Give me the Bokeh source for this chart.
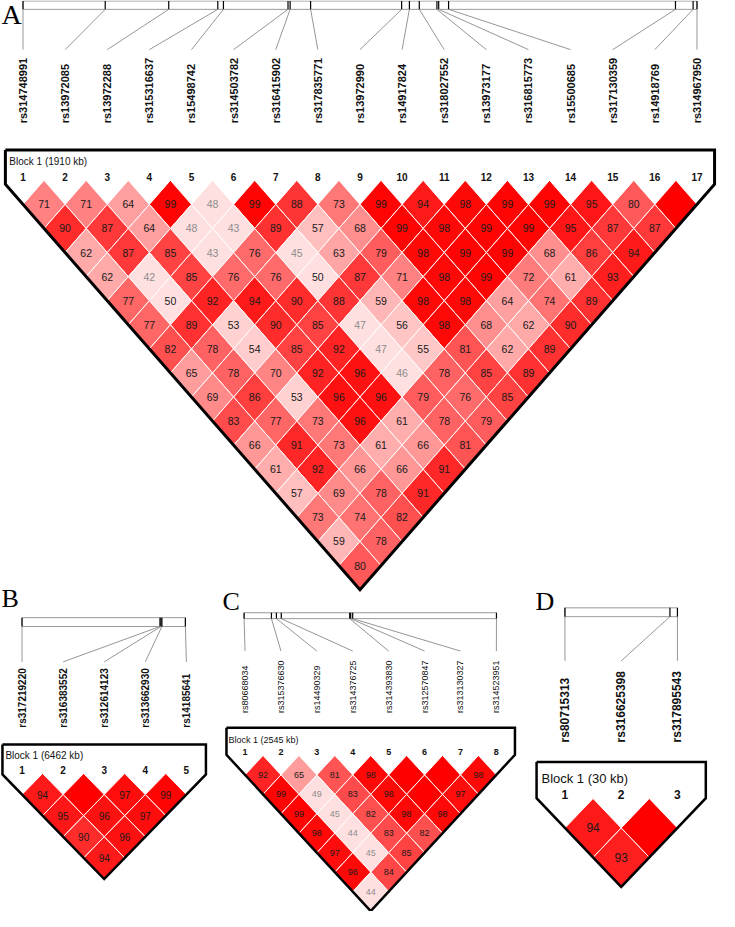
import math
from bokeh.plotting import figure
from bokeh.models import Range1d
from bokeh.embed import file_html
from bokeh.resources import INLINE
from bokeh.core.properties import value

# ---------------- data ----------------
A_SNPS = ["rs314748991", "rs13972085", "rs13972288", "rs315316637", "rs15498742",
          "rs314503782", "rs316415902", "rs317835771", "rs13972990", "rs14917824",
          "rs318027552", "rs13973177", "rs316815773", "rs15500685", "rs317130359",
          "rs14918769", "rs314967950"]
A_KB = [0, 233, 413, 552, 568, 751, 757, 815, 1073, 1095, 1123, 1173, 1178, 1206, 1849, 1899, 1910]
A_BLOCK = "Block 1 (1910 kb)"
# D' (x100) by diagonal row: row r holds pairs (i, i+r); 100 = D'=1 (blank red)
A_DPRIME = [
    [71, 71, 64, 99, 48, 99, 88, 73, 99, 94, 98, 99, 99, 95, 80, 100],
    [90, 87, 64, 48, 43, 89, 57, 68, 99, 98, 99, 99, 95, 87, 87],
    [62, 87, 85, 43, 76, 45, 63, 79, 98, 99, 99, 68, 86, 94],
    [62, 42, 85, 76, 76, 50, 87, 71, 98, 99, 72, 61, 93],
    [77, 50, 92, 94, 90, 88, 59, 98, 98, 64, 74, 89],
    [77, 89, 53, 90, 85, 47, 56, 98, 68, 62, 90],
    [82, 78, 54, 85, 92, 47, 55, 81, 62, 89],
    [65, 78, 70, 92, 96, 46, 78, 85, 89],
    [69, 86, 53, 96, 96, 79, 76, 85],
    [83, 77, 73, 96, 61, 78, 79],
    [66, 91, 73, 61, 66, 81],
    [61, 92, 66, 66, 91],
    [57, 69, 78, 91],
    [73, 74, 82],
    [59, 78],
    [80],
]

B_SNPS = ["rs317219220", "rs316383552", "rs312614123", "rs313662930", "rs14185641"]
B_KB = [0, 5456, 5495, 5533, 6462]
B_BLOCK = "Block 1 (6462 kb)"
B_DPRIME = [[94, 100, 97, 99], [95, 96, 97], [90, 96], [94]]

C_SNPS = ["rs80668034", "rs315376630", "rs14490329", "rs314376725", "rs314393830",
          "rs312570847", "rs313130327", "rs314523951"]
C_KB = [0, 276, 326, 375, 1065, 1075, 1095, 2545]
C_BLOCK = "Block 1 (2545 kb)"
C_DPRIME = [[92, 65, 81, 98, 100, 100, 98], [99, 49, 83, 98, 100, 97], [99, 45, 82, 98, 98],
            [98, 44, 83, 82], [97, 45, 85], [98, 84], [44]]

D_SNPS = ["rs80715313", "rs316625398", "rs317895543"]
D_KB = [0, 28, 30]
D_BLOCK = "Block 1 (30 kb)"
D_DPRIME = [[94, 100], [93]]

# ---------------- layout (reference pixel space, y downwards) ----------------
LAY = {
    "A": dict(lx=1, ly=14, lsize="28px",
              m0=23, m1=712, mt=0.5, mb=9, cb=50, lb=125, lab_size="11px", lab_style="bold",
              c0=23, dx=43.06, ot=152, ol=5, bx=9, by=164, bsize="10px", ny=180, nsize="10px",
              r1=207.5, hh=24.5, tsize="10.5px", bw=3),
    "B": dict(lx=1, ly=608, lsize="26px",
              m0=22, m1=189, mt=628, mb=637, cb=673, lb=740, lab_size="10px", lab_style="bold",
              c0=22, dx=42, ot=757, ol=2, bx=5, by=768, bsize="10px", ny=783, nsize="10px",
              r1=808, hh=21.5, tsize="10px", bw=2.5),
    "C": dict(lx=227, ly=612, lsize="26px",
              m0=249, m1=507, mt=623, mb=629, cb=662, lb=725, lab_size="9px", lab_style="normal",
              c0=250, dx=36.7, ot=740, ol=231, bx=233, by=752, bsize="9px", ny=765, nsize="9px",
              r1=788, hh=19.8, tsize="9px", bw=2.5),
    "D": dict(lx=547, ly=612, lsize="26px",
              m0=577, m1=692, mt=618, mb=627, cb=672, lb=755, lab_size="12px", lab_style="bold",
              c0=577, dx=57.5, ot=775, ol=548, bx=553, by=792, bsize="13px", ny=808, nsize="12px",
              r1=842, hh=30, tsize="12px", bw=2.5),
}

SANS = value("Liberation Sans")
SERIF = value("Liberation Serif")


def ld_color(v):
    d = v / 100.0
    if d >= 1.0:
        return "#ff0000"
    if d < 0.5:
        return "#ffe0e0"
    g = int((255 - 32) * 2 * (1 - d))
    return "#%02x%02x%02x" % (255, g, g)


def Y(v):
    return [-t for t in v]


def draw_panel(p, letter, snps, kb, dp, block, L):
    n = len(snps)
    cols = [L["c0"] + k * L["dx"] for k in range(n)]
    # panel letter
    p.text(x=[L["lx"]], y=Y([L["ly"]]), text=[letter], text_font=SERIF,
           text_font_size=L["lsize"], text_align="left", text_baseline="middle", text_color="black")
    # physical map
    span = float(kb[-1])
    mx = [L["m0"] + k / span * (L["m1"] - L["m0"]) for k in kb]
    p.quad(left=[L["m0"]], right=[L["m1"]], top=Y([L["mt"]]), bottom=Y([L["mb"]]),
           fill_color=None, line_color="#9a9a9a", line_width=1)
    p.segment(x0=mx, y0=Y([L["mt"]] * n), x1=mx, y1=Y([L["mb"]] * n),
              line_color="black", line_width=1.2)
    p.segment(x0=mx, y0=Y([L["mb"]] * n), x1=cols, y1=Y([L["cb"]] * n),
              line_color="#8a8a8a", line_width=0.9)
    p.text(x=cols, y=Y([L["lb"]] * n), text=snps, angle=math.pi / 2,
           text_font=SANS, text_font_size=L["lab_size"], text_font_style=L["lab_style"],
           text_align="left", text_baseline="middle", text_color="#111111")
    # LD cells
    hw = L["dx"] / 2.0
    hh = L["hh"]
    xs, ys, fills, tx, ty, tt, tc = [], [], [], [], [], [], []
    for r, row in enumerate(dp, start=1):
        for i, v in enumerate(row):
            j = i + r
            cx = (cols[i] + cols[j]) / 2.0
            cy = L["r1"] + (r - 1) * hh
            xs.append([cx - hw, cx, cx + hw, cx])
            ys.append(Y([cy, cy - hh, cy, cy + hh]))
            fills.append(ld_color(v))
            if v < 100:
                tx.append(cx)
                ty.append(-cy)
                tt.append(str(v))
                tc.append("#8c8c8c" if v < 50 else "#1a1a1a")
    p.patches(xs=xs, ys=ys, fill_color=fills, line_color="white", line_width=1)
    p.text(x=tx, y=ty, text=tt, text_color=tc, text_font=SANS, text_font_size=L["tsize"],
           text_align="center", text_baseline="middle")
    # block outline
    left = L["ol"]
    right = cols[-1] + (cols[0] - left)
    vend = L["r1"] - (cols[0] - left) * hh / hw
    ax = (cols[0] + cols[-1]) / 2.0
    ay = L["r1"] + (n - 1) * hh
    ox = [left, right, right, ax, left, left]
    oy = Y([L["ot"], L["ot"], vend, ay, vend, L["ot"]])
    p.line(x=ox, y=oy, line_color="black", line_width=L["bw"], line_join="miter")
    p.text(x=[L["bx"]], y=Y([L["by"]]), text=[block], text_font=SANS, text_font_size=L["bsize"],
           text_align="left", text_baseline="middle", text_color="#111111")
    p.text(x=cols, y=Y([L["ny"]] * n), text=[str(k + 1) for k in range(n)], text_font=SANS,
           text_font_size=L["nsize"], text_font_style="bold", text_align="center",
           text_baseline="middle", text_color="#111111")


p = figure(width=719, height=911, x_range=Range1d(0, 735), y_range=Range1d(-927, 0),
           output_backend="svg", toolbar_location=None, x_axis_type=None, y_axis_type=None,
           min_border=0, outline_line_color=None, background_fill_color="white")
p.grid.visible = False

draw_panel(p, "A", A_SNPS, A_KB, A_DPRIME, A_BLOCK, LAY["A"])
draw_panel(p, "B", B_SNPS, B_KB, B_DPRIME, B_BLOCK, LAY["B"])
draw_panel(p, "C", C_SNPS, C_KB, C_DPRIME, C_BLOCK, LAY["C"])
draw_panel(p, "D", D_SNPS, D_KB, D_DPRIME, D_BLOCK, LAY["D"])

open("out.html", "w").write(file_html(p, INLINE))
